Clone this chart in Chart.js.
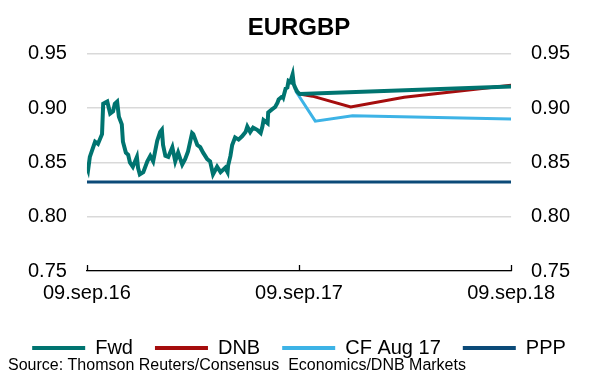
<!DOCTYPE html>
<html>
<head>
<meta charset="utf-8">
<script src="https://cdn.jsdelivr.net/npm/chart.js@4"></script>
<style>
  html, body { margin: 0; padding: 0; background: #fff; }
  #wrap { width: 591px; height: 374px; }
</style>
</head>
<body>
<div id="wrap"><canvas id="myChart" width="591" height="374"></canvas></div>
<script>
// days counted from 09.sep.16
const xTickDays = [0, 365, 730];
const xTickLabels = ['09.sep.16', '09.sep.17', '09.sep.18'];

const histDays = [0, 2, 5, 14, 19, 26, 28, 35, 40, 45, 48, 52, 55, 60, 62, 67, 71, 74, 79, 86,
  88, 91, 97, 104, 109, 114, 121, 126, 129, 131, 135, 140, 147, 152, 157, 164, 169, 174, 181, 183,
  190, 195, 200, 207, 212, 217, 224, 230, 238, 242, 243, 247, 250, 255, 261, 267, 273, 276, 281, 286,
  293, 299, 302, 304, 311, 312, 319, 324, 328, 330, 337, 338, 342, 345, 347, 350, 354, 356, 359, 362];
const histRate = [0.846, 0.843, 0.855, 0.869, 0.867, 0.876, 0.904, 0.906, 0.895, 0.897, 0.904, 0.906, 0.892, 0.885, 0.869, 0.859, 0.857, 0.850, 0.846, 0.855,
  0.845, 0.839, 0.841, 0.851, 0.856, 0.851, 0.870, 0.878, 0.880, 0.866, 0.856, 0.855, 0.864, 0.851, 0.859, 0.848, 0.853, 0.860, 0.877, 0.876,
  0.866, 0.864, 0.859, 0.853, 0.851, 0.839, 0.846, 0.841, 0.845, 0.841, 0.847, 0.856, 0.866, 0.873, 0.871, 0.874, 0.878, 0.883, 0.878, 0.882,
  0.880, 0.877, 0.883, 0.889, 0.886, 0.896, 0.899, 0.901, 0.905, 0.908, 0.911, 0.910, 0.918, 0.919, 0.925, 0.924, 0.931, 0.922, 0.918, 0.915];

const fwdDays = [366, 730];
const fwdRate = [0.913, 0.920];
const dnbDays = [366, 388, 454, 546, 730];
const dnbRate = [0.913, 0.911, 0.901, 0.910, 0.921];
const cfDays = [359, 393, 457, 730];
const cfRate = [0.916, 0.888, 0.893, 0.890];
const pppDays = [0, 730];
const pppRate = [0.832, 0.832];

const yTicks = [0.75, 0.80, 0.85, 0.90, 0.95];
const sourceText = 'Source: Thomson Reuters/Consensus  Economics/DNB Markets';

function pts(days, vals) {
  return days.map((d, i) => ({ x: d, y: vals[i] }));
}

const font = "'Liberation Sans', Arial, sans-serif";

// tick marks pointing up from the x axis, and the source line under the legend
const extras = {
  id: 'extras',
  afterDraw(chart) {
    const sx = chart.scales.x;
    const ctx = chart.ctx;
    const bottom = chart.chartArea.bottom;
    ctx.save();
    ctx.strokeStyle = '#000';
    ctx.lineWidth = 1.3;
    xTickDays.forEach(d => {
      const px = Math.round(sx.getPixelForValue(d)) + 0.5;
      ctx.beginPath();
      ctx.moveTo(px, bottom);
      ctx.lineTo(px, bottom - 6);
      ctx.stroke();
    });
    ctx.fillStyle = '#000';
    ctx.font = '16px ' + font;
    ctx.textBaseline = 'middle';
    ctx.textAlign = 'left';
    ctx.fillText(sourceText, 8, 366);
    ctx.restore();
  }
};

const line = (label, data, color, w) => ({
  label: label,
  data: data,
  borderColor: color,
  backgroundColor: color,
  borderWidth: w,
  pointRadius: 0,
  tension: 0,
  fill: false
});

new Chart(document.getElementById('myChart').getContext('2d'), {
  type: 'line',
  data: {
    datasets: [
      line('Fwd', pts(histDays, histRate).concat(pts(fwdDays, fwdRate)), '#007470', 4),
      line('DNB', pts(dnbDays, dnbRate), '#A50D0D', 3),
      line('CF Aug 17', pts(cfDays, cfRate), '#3DB3E6', 3),
      line('PPP', pts(pppDays, pppRate), '#0B4A78', 3)
    ]
  },
  options: {
    responsive: false,
    animation: false,
    layout: { padding: { left: 8, right: 1, top: 0, bottom: 6 } },
    plugins: {
      title: {
        display: true,
        text: 'EURGBP',
        color: '#000',
        font: { family: font, size: 24, weight: 'bold' },
        padding: { top: 14, bottom: 11 }
      },
      legend: {
        position: 'bottom',
        labels: {
          boxWidth: 53,
          boxHeight: 4,
          padding: 22,
          color: '#000',
          font: { family: font, size: 20 },
          generateLabels(chart) {
            return Chart.defaults.plugins.legend.labels.generateLabels(chart)
              .map(l => Object.assign(l, { lineWidth: 0 }));
          }
        }
      },
      tooltip: { enabled: false }
    },
    scales: {
      x: {
        type: 'linear',
        min: 0,
        max: 730,
        afterBuildTicks(scale) {
          scale.ticks = xTickDays.map(v => ({ value: v }));
        },
        afterFit(scale) {
          scale.height += 1;
        },
        ticks: {
          color: '#000',
          font: { family: font, size: 20 },
          padding: 10,
          maxRotation: 0,
          autoSkip: false,
          callback: (v) => xTickLabels[xTickDays.indexOf(v)]
        },
        grid: { display: false, drawTicks: false },
        border: { display: true, color: '#000', width: 1.3 }
      },
      y: {
        position: 'left',
        min: 0.75,
        max: 0.95,
        afterBuildTicks(scale) {
          scale.ticks = yTicks.map(v => ({ value: v }));
        },
        ticks: {
          color: '#000',
          font: { family: font, size: 20 },
          padding: 20,
          callback: (v) => v.toFixed(2)
        },
        grid: { color: '#d9d9d9', lineWidth: 1.5, drawTicks: false },
        border: { display: false }
      },
      y2: {
        position: 'right',
        min: 0.75,
        max: 0.95,
        afterBuildTicks(scale) {
          scale.ticks = yTicks.map(v => ({ value: v }));
        },
        ticks: {
          color: '#000',
          font: { family: font, size: 20 },
          padding: 20,
          callback: (v) => v.toFixed(2)
        },
        grid: { display: false, drawTicks: false },
        border: { display: false }
      }
    }
  },
  plugins: [extras]
});
</script>
</body>
</html>
